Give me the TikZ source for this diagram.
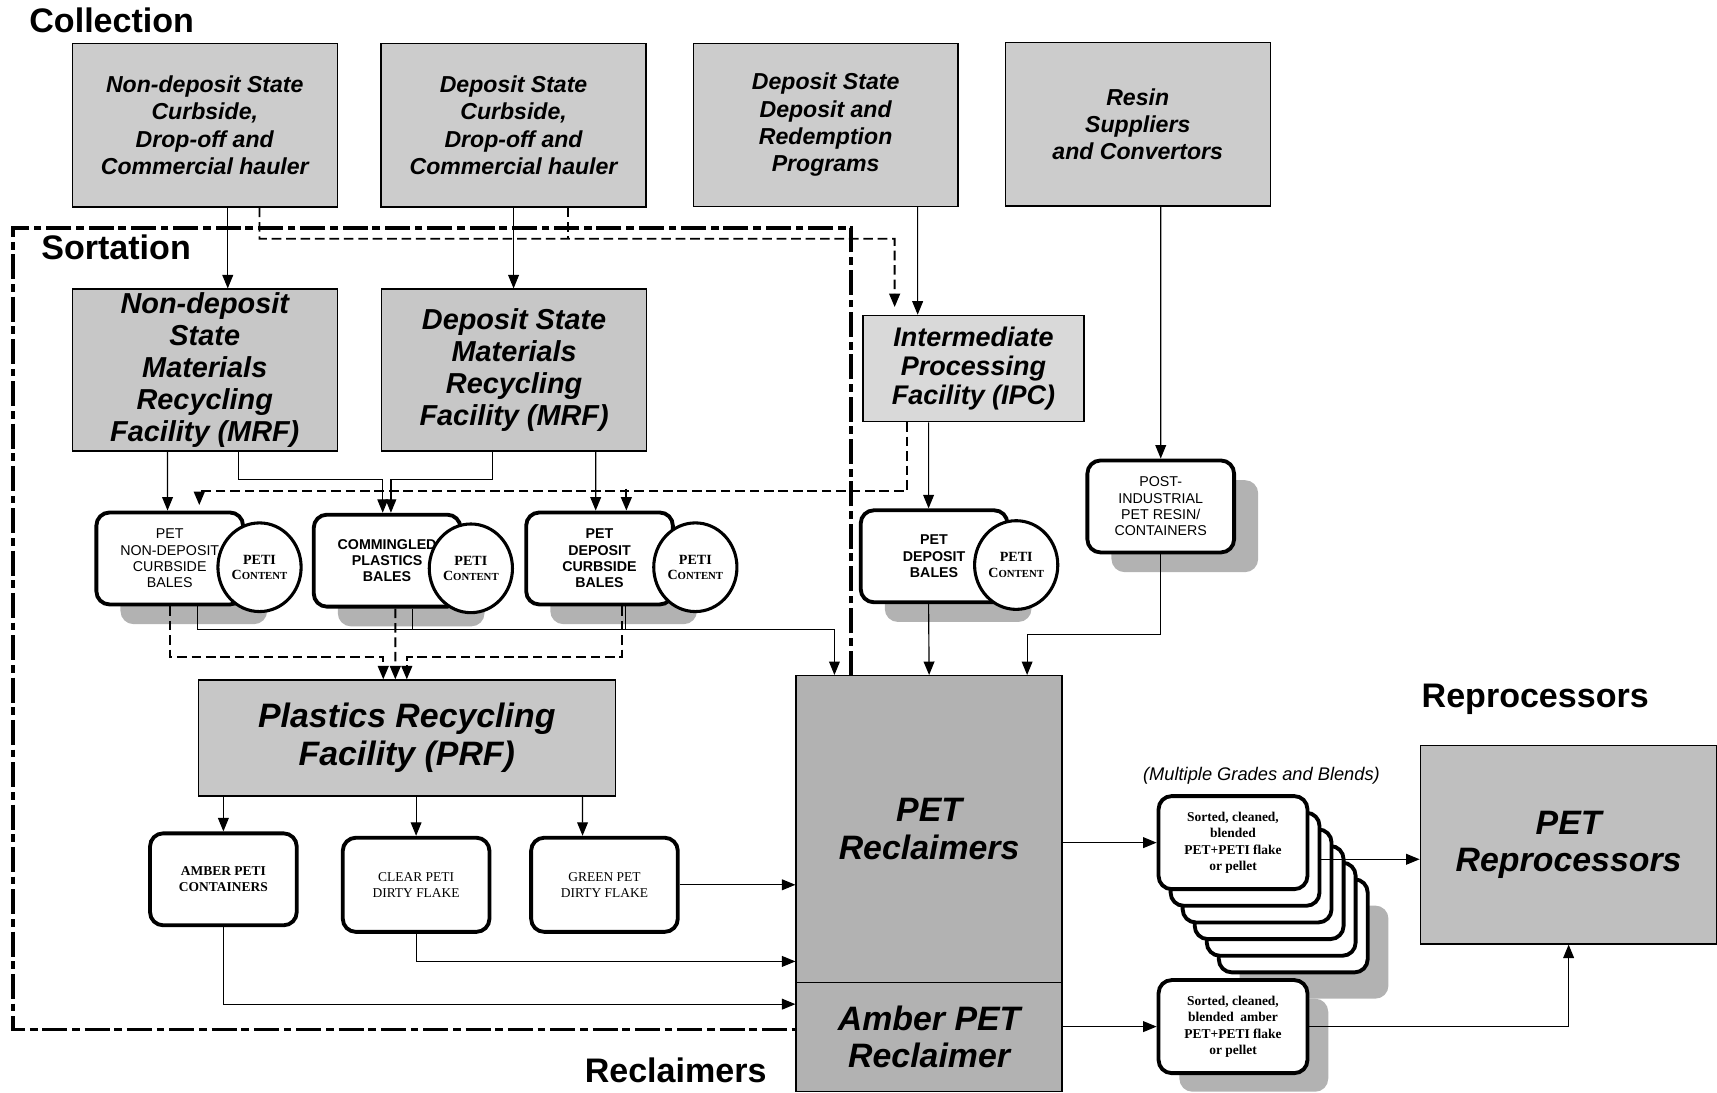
\documentclass[tikz,border=0pt]{standalone}
\usepackage{fontspec}
\setmainfont{Liberation Serif}
\setsansfont{Liberation Sans}
\usetikzlibrary{arrows.meta, shapes.geometric, shadows}

\newcommand{\hdfont}{\sffamily\bfseries\fontsize{17.7}{20}\selectfont}
\newcommand{\srcfont}{\sffamily\bfseries\itshape\fontsize{12}{14.2}\selectfont}
\newcommand{\mrffont}{\sffamily\bfseries\itshape\fontsize{15}{16.7}\selectfont}
\newcommand{\ipcfont}{\sffamily\bfseries\itshape\fontsize{14}{15.3}\selectfont}
\newcommand{\reclfont}{\sffamily\bfseries\itshape\fontsize{17.6}{19.6}\selectfont}
\newcommand{\balefont}{\sffamily\fontsize{7.4}{8.5}\selectfont}
\newcommand{\petifont}{\rmfamily\bfseries\fontsize{7.3}{8}\selectfont}
\newcommand{\flakefont}{\rmfamily\fontsize{7}{8.5}\selectfont}
\newcommand{\sortfont}{\rmfamily\bfseries\fontsize{7}{8.5}\selectfont}
\newcommand{\petic}{PETI\\C{\fontsize{5.6}{8}\selectfont ONTENT}}

\tikzset{
  hdtext/.style={font=\hdfont, inner sep=0pt},
  textured/.style={draw, line width=0.7pt, fill=black!20, inner sep=0pt, align=center},
  srcbox/.style={textured, minimum width=4.84cm, minimum height=2.98cm, font=\srcfont},
  mrfbox/.style={textured, fill=black!22, minimum width=4.84cm, minimum height=2.96cm, font=\mrffont},
  roundbox/.style={draw, line width=2pt, rounded corners=0.24cm, fill=white, minimum width=2.68cm, minimum height=1.68cm, inner sep=0pt, align=center},
  shadowed/.style={drop shadow={shadow xshift=0.44cm, shadow yshift=-0.36cm, fill=black!30, opacity=1}},
  peti/.style={ellipse, draw, line width=1.6pt, fill=white, minimum width=1.52cm, minimum height=1.62cm, inner sep=0pt, align=center, font=\petifont},
  sortbox/.style={roundbox, minimum width=2.72cm, minimum height=1.7cm, font=\sortfont},
  flow/.style={->, line width=0.6pt},
  dashflow/.style={line width=1pt, dash pattern=on 5pt off 2.5pt},
  sortframe/.style={line width=1.8pt, dash pattern=on 13pt off 2.5pt on 4pt off 2.5pt}
}

\begin{document}
\begin{tikzpicture}[x=0.02cm, y=-0.02cm, >={Triangle[length=7pt,width=5.6pt]}]
\useasboundingbox (0,0) rectangle (1568,998);
% sortation frame
\draw[sortframe] (777,617) -- (777,208) -- (12,208) -- (12,940) -- (727,940);
% collection
\node[hdtext] (tcol) at (102,19) {Collection};
\node[srcbox] (c1) at (187,114.5) {Non-deposit State\\Curbside,\\Drop-off and\\Commercial hauler};
\node[srcbox] (c2) at (469,114.5) {Deposit State\\Curbside,\\Drop-off and\\Commercial hauler};
\node[srcbox] (c3) at (754,114) {Deposit State\\Deposit and\\Redemption\\Programs};
\node[srcbox] (c4) at (1039,113.5) {Resin\\Suppliers\\and Convertors};
% sortation
\node[hdtext] (tsort) at (106,226) {Sortation};
\node[mrfbox] (s1) at (187,338) {Non-deposit\\State\\Materials\\Recycling\\Facility (MRF)};
\node[mrfbox] (s2) at (469.5,338) {Deposit State\\Materials\\Recycling\\Facility (MRF)};
\node[textured, fill=black!15, minimum width=4.04cm, minimum height=1.94cm, font=\ipcfont] (ipc) at (889,336.5) {Intermediate\\Processing\\Facility (IPC)};
% bales
\node[roundbox, shadowed, font=\balefont] (b1) at (155,510) {PET\\NON-DEPOSIT\\CURBSIDE\\BALES};
\node[peti] (b1p) at (237,518) {\petic};
\node[roundbox, shadowed, font=\balefont\bfseries] (b2) at (353.5,512) {COMMINGLED\\PLASTICS\\BALES};
\node[peti] (b2p) at (430,519) {\petic};
\node[roundbox, shadowed, font=\balefont\bfseries] (b3) at (547.5,510) {PET\\DEPOSIT\\CURBSIDE\\BALES};
\node[peti] (b3p) at (635,518) {\petic};
\node[roundbox, shadowed, font=\balefont\bfseries] (b4) at (853,508) {PET\\DEPOSIT\\BALES};
\node[peti] (b4p) at (928,516) {\petic};
\node[roundbox, shadowed, font=\balefont] (pi) at (1060,462.5) {POST-\\INDUSTRIAL\\PET RESIN/\\CONTAINERS};
% plastics recycling facility
\node[textured, fill=black!22, minimum width=7.62cm, minimum height=2.12cm, font=\reclfont] (prf) at (371.5,674) {Plastics Recycling\\Facility (PRF)};
\node[roundbox, font=\flakefont\bfseries] (amb) at (204,803) {AMBER PETI\\CONTAINERS};
\node[roundbox, minimum height=1.72cm, font=\flakefont] (clr) at (380,808) {CLEAR PETI\\DIRTY FLAKE};
\node[roundbox, minimum height=1.72cm, font=\flakefont] (grn) at (552,808) {GREEN PET\\DIRTY FLAKE};
% reclaimers
\node[textured, fill=black!30, minimum width=4.86cm, minimum height=5.6cm, font=\reclfont] (rec) at (848.5,757) {PET\\Reclaimers};
\node[textured, fill=black!30, minimum width=4.86cm, minimum height=2cm, font=\reclfont] (arec) at (848.5,947) {Amber PET\\Reclaimer};
\node[hdtext] (trecl) at (617,977) {Reclaimers};
% grades and blends
\node[font=\sffamily\itshape\fontsize{9.5}{11}\selectfont] (tmult) at (1152,708) {(Multiple Grades and Blends)};
\node[sortbox, drop shadow={shadow xshift=0.38cm, shadow yshift=-0.48cm, fill=black!30, opacity=1}] (stk5) at (1181,845.5) {};
\node[sortbox] (stk4) at (1170,830.3) {};
\node[sortbox] (stk3) at (1159,815.1) {};
\node[sortbox] (stk2) at (1148,799.9) {};
\node[sortbox] (stk1) at (1137,784.7) {};
\node[sortbox] (stk0) at (1126,769.5) {Sorted, cleaned,\\blended\\PET+PETI flake\\or pellet};
\node[sortbox, drop shadow={shadow xshift=0.38cm, shadow yshift=-0.34cm, fill=black!30, opacity=1}] (asrt) at (1126,937.5) {Sorted, cleaned,\\blended\ \ amber\\PET+PETI flake\\or pellet};
% reprocessors
\node[hdtext] (trep) at (1402,639) {Reprocessors};
\node[textured, fill=black!25, minimum width=5.42cm, minimum height=3.62cm, font=\reclfont] (rep) at (1432.5,771.5) {PET\\Reprocessors};

% collection to sortation
\draw[flow] ([xshift=0.42cm]c1.south) -- ([xshift=0.42cm]s1.north);
\draw[flow] (c2.south) -- (c2.south |- s2.north);
\coordinate (dj) at (817,218);
\draw[dashflow, ->] ([xshift=1cm]c1.south) |- (dj) -- ([xshift=-1.44cm, yshift=0.14cm]ipc.north);
\draw[dashflow] ([xshift=1cm]c2.south) -- ++(0,-0.58cm);
\draw[flow] ([xshift=1.68cm]c3.south) -- ([xshift=-1.02cm]ipc.north);
\draw[flow] ([xshift=0.42cm]c4.south) -- (pi.north);
% sortation to bales
\draw[flow] ([xshift=-0.68cm]s1.south) -- ([xshift=-0.04cm]b1.north);
\draw[flow] ([xshift=0.62cm]s1.south) -- ++(0,-0.5cm) -| ([xshift=-0.08cm]b2.north);
\draw[flow] ([xshift=-0.39cm]s2.south) -- ++(0,-0.5cm) -| ([xshift=0.07cm]b2.north);
\draw[flow] ([xshift=1.49cm]s2.south) -- ([xshift=-0.07cm]b3.north);
\draw[dashflow, ->] ([xshift=-1.22cm]ipc.south) -- ++(0,-1.26cm) -| ([xshift=0.54cm, yshift=0.1cm]b1.north);
\draw[dashflow, ->] ([xshift=0.49cm, yshift=0.4cm]b3.north) -- ([xshift=0.49cm]b3.north);
\draw[flow] ([xshift=-0.82cm]ipc.south) -- ([xshift=-0.1cm]b4.north);
% bales to plastics recycling facility
\draw[dashflow, ->] (b1.south) -- ++(0,-0.92cm) -| ([xshift=-0.43cm]prf.north);
\draw[dashflow, ->] ([xshift=0.15cm]b2.south) -- ([xshift=-0.21cm]prf.north);
\draw[dashflow, ->] ([xshift=0.41cm]b3.south) -- ++(0,-0.92cm) -| (prf.north);
% bales to reclaimers
\draw[flow] ([xshift=0.5cm]b1.south) -- ++(0,-0.42cm) -| ([xshift=-1.73cm]rec.north);
\draw[line width=0.6pt] ([xshift=0.47cm]b2.south) -- ++(0,-0.38cm);
\draw[line width=0.6pt] ([xshift=0.47cm]b3.south) -- ++(0,-0.42cm);
\draw[flow] ([xshift=-0.1cm]b4.south) -- (rec.north);
\draw[flow] (pi.south) -- ++(0,-1.46cm) -| ([xshift=1.79cm]rec.north);
% plastics recycling facility outputs
\draw[flow] (prf.south -| amb.north) -- (amb.north);
\draw[flow] (prf.south -| clr.north) -- (clr.north);
\draw[flow] ([xshift=3.21cm]prf.south) -- ([xshift=-0.4cm]grn.north);
\draw[flow] (grn.east) -- (grn.east -| rec.west);
\draw[flow] (clr.south) |- ([yshift=-2.42cm]rec.west);
\draw[flow] (amb.south) |- ([yshift=0.6cm]arec.west);
% reclaimers to reprocessors
\draw[flow] (stk0.west -| rec.east) -- (stk0.west);
\draw[flow] (asrt.west -| arec.east) -- (asrt.west);
\draw[flow] (stk1.east) -- (stk1.east -| rep.west);
\draw[flow] (asrt.east) -| (rep.south);
\end{tikzpicture}
\end{document}
